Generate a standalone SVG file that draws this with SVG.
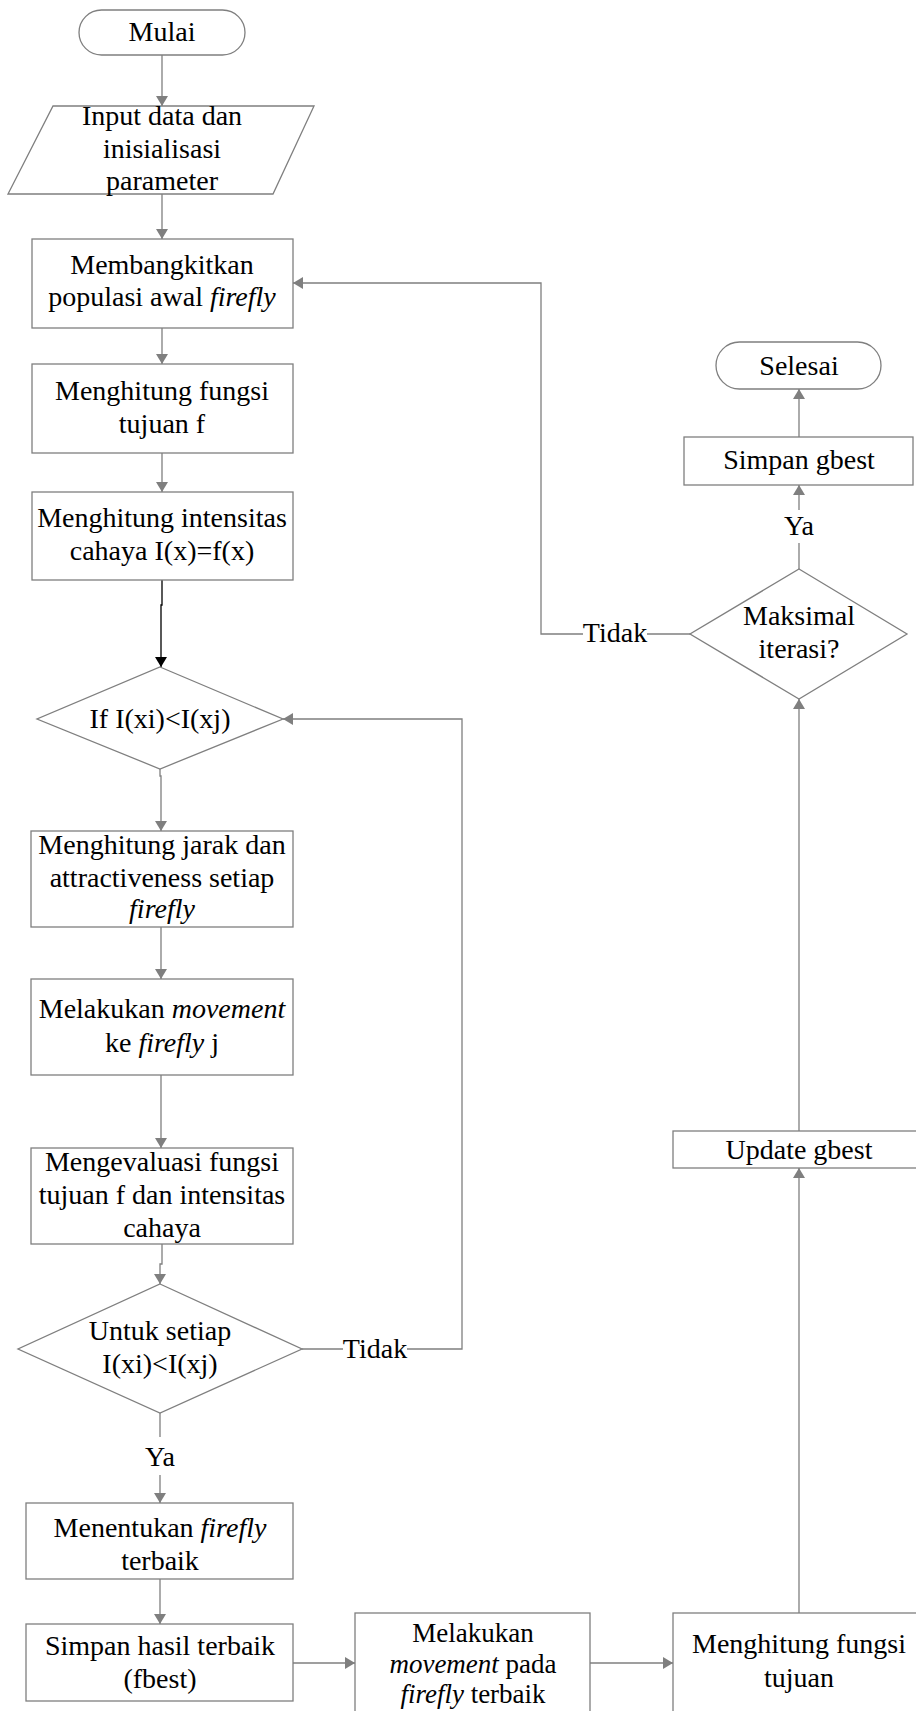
<svg xmlns="http://www.w3.org/2000/svg" width="916" height="1711" viewBox="0 0 916 1711">
<style>
.s{fill:#fff;stroke:#7f7f7f;stroke-width:1.3}
.c{fill:none;stroke:#7f7f7f;stroke-width:1.3}
.k{fill:none;stroke:#000;stroke-width:1.3}
text{font-family:"Liberation Serif","Times New Roman",serif;font-size:28px;fill:#000;text-anchor:middle}
.i{font-style:italic}
.sm{font-size:27px}
</style>
<defs>
<marker id="a" viewBox="0 0 10 12" refX="10" refY="6" markerWidth="10" markerHeight="12" markerUnits="userSpaceOnUse" orient="auto"><path d="M0,0 L10,6 L0,12 z" fill="#7f7f7f"/></marker>
<marker id="b" viewBox="0 0 10 12" refX="10" refY="6" markerWidth="10" markerHeight="12" markerUnits="userSpaceOnUse" orient="auto"><path d="M0,0 L10,6 L0,12 z" fill="#000"/></marker>
</defs>
<rect width="916" height="1711" fill="#fff"/>
<g id="connectors">
<path class="c" d="M162,55 V106" marker-end="url(#a)"/>
<path class="c" d="M162,194 V239" marker-end="url(#a)"/>
<path class="c" d="M162,328 V364" marker-end="url(#a)"/>
<path class="c" d="M162,453 V492" marker-end="url(#a)"/>
<path class="k" d="M162,580 V605 H161 V667" marker-end="url(#b)"/>
<path class="c" d="M160,769 V776 H161 V831" marker-end="url(#a)"/>
<path class="c" d="M161,927 V979" marker-end="url(#a)"/>
<path class="c" d="M161,1075 V1148" marker-end="url(#a)"/>
<path class="c" d="M162,1244 V1264 H160 V1284" marker-end="url(#a)"/>
<path class="c" d="M160,1413 V1437"/>
<path class="c" d="M160,1475 V1503" marker-end="url(#a)"/>
<path class="c" d="M302,1349 H343"/>
<path class="c" d="M407,1349 H462 V719 H283" marker-end="url(#a)"/>
<path class="c" d="M160,1579 V1624" marker-end="url(#a)"/>
<path class="c" d="M293,1663 H355" marker-end="url(#a)"/>
<path class="c" d="M590,1663 H673" marker-end="url(#a)"/>
<path class="c" d="M799,1613 V1168" marker-end="url(#a)"/>
<path class="c" d="M799,1131 V699" marker-end="url(#a)"/>
<path class="c" d="M799,569 V543"/>
<path class="c" d="M799,510 V485" marker-end="url(#a)"/>
<path class="c" d="M799,437 V389" marker-end="url(#a)"/>
<path class="c" d="M690,634 H647"/>
<path class="c" d="M583,634 H541 V283 H293" marker-end="url(#a)"/>
<text x="375" y="1358">Tidak</text>
<text x="160" y="1466">Ya</text>
<text x="615" y="642">Tidak</text>
<text x="799" y="535">Ya</text>
</g>
<g id="mulai"><rect class="s" x="79" y="10" width="166" height="45" rx="22.5"/><text x="162" y="41">Mulai</text></g>
<g id="input"><path class="s" d="M53,106 H314 L273,194 H8 Z"/><text x="162" y="125">Input data dan</text><text x="162" y="158">inisialisasi</text><text x="162" y="190">parameter</text></g>
<g id="populasi"><rect class="s" x="32" y="239" width="261" height="89"/><text x="162" y="274">Membangkitkan</text><text x="162" y="306">populasi awal <tspan class="i">firefly</tspan></text></g>
<g id="fungsi"><rect class="s" x="32" y="364" width="261" height="89"/><text x="162" y="400">Menghitung fungsi</text><text x="162" y="433">tujuan f</text></g>
<g id="intensitas"><rect class="s" x="32" y="492" width="261" height="88"/><text x="162" y="527">Menghitung intensitas</text><text x="162" y="560">cahaya I(x)=f(x)</text></g>
<g id="if"><path class="s" d="M160,667 L283,719 L160,769 L37,719 Z"/><text x="160" y="728">If I(xi)&lt;I(xj)</text></g>
<g id="jarak"><rect class="s" x="31" y="831" width="262" height="96"/><text x="162" y="854">Menghitung jarak dan</text><text x="162" y="887">attractiveness setiap</text><text x="162" y="918" class="i">firefly</text></g>
<g id="movement"><rect class="s" x="31" y="979" width="262" height="96"/><text x="162" y="1018">Melakukan <tspan class="i">movement</tspan></text><text x="162" y="1052">ke <tspan class="i">firefly</tspan> j</text></g>
<g id="evaluasi"><rect class="s" x="31" y="1148" width="262" height="96"/><text x="162" y="1171">Mengevaluasi fungsi</text><text x="162" y="1204">tujuan f dan intensitas</text><text x="162" y="1237">cahaya</text></g>
<g id="untuk"><path class="s" d="M160,1284 L302,1349 L160,1413 L18,1349 Z"/><text x="160" y="1340">Untuk setiap</text><text x="160" y="1373">I(xi)&lt;I(xj)</text></g>
<g id="menentukan"><rect class="s" x="26" y="1503" width="267" height="76"/><text x="160" y="1537">Menentukan <tspan class="i">firefly</tspan></text><text x="160" y="1570">terbaik</text></g>
<g id="simpanhasil"><rect class="s" x="26" y="1624" width="267" height="77"/><text x="160" y="1655">Simpan hasil terbaik</text><text x="160" y="1688">(fbest)</text></g>
<g id="movebest"><rect class="s" x="355" y="1613" width="235" height="120"/><text class="sm" x="473" y="1642">Melakukan</text><text class="sm" x="473" y="1673"><tspan class="i">movement</tspan> pada</text><text class="sm" x="473" y="1703"><tspan class="i">firefly</tspan> terbaik</text></g>
<g id="fungsitujuan"><rect class="s" x="673" y="1613" width="252" height="120"/><text x="799" y="1653">Menghitung fungsi</text><text x="799" y="1687">tujuan</text></g>
<g id="update"><rect class="s" x="673" y="1131" width="252" height="37"/><text x="799" y="1159">Update gbest</text></g>
<g id="maksimal"><path class="s" d="M799,569 L907,634 L799,699 L690,634 Z"/><text x="799" y="625">Maksimal</text><text x="799" y="658">iterasi?</text></g>
<g id="simpangbest"><rect class="s" x="684" y="437" width="229" height="48"/><text x="799" y="469">Simpan gbest</text></g>
<g id="selesai"><rect class="s" x="716" y="342" width="165" height="47" rx="23.5"/><text x="799" y="375">Selesai</text></g>
</svg>
